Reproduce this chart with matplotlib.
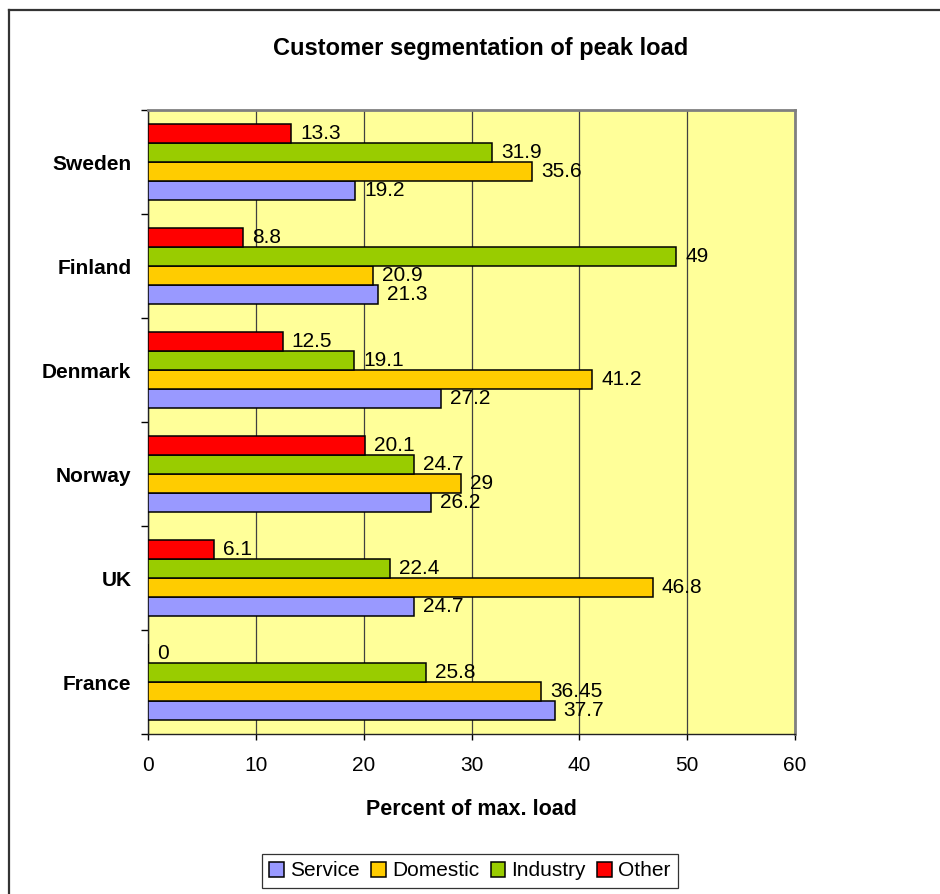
import numpy as np
import matplotlib.pyplot as plt
from matplotlib.lines import Line2D

plt.rcParams['font.family'] = ['Liberation Sans', 'DejaVu Sans']

countries = ["France", "UK", "Norway", "Denmark", "Finland", "Sweden"]
series = ["Service", "Domestic", "Industry", "Other"]
service = [37.7, 24.7, 26.2, 27.2, 21.3, 19.2]
domestic = [36.45, 46.8, 29, 41.2, 20.9, 35.6]
industry = [25.8, 22.4, 24.7, 19.1, 49, 31.9]
other = [0, 6.1, 20.1, 12.5, 8.8, 13.3]
colors = ["#9999FF", "#FFCC00", "#99CC00", "#FF0000"]
xticks = [0, 10, 20, 30, 40, 50, 60]

fig = plt.figure(figsize=(9.4, 8.94), dpi=100)
ax = fig.add_axes([148 / 940, 1 - 734 / 894, (795 - 148) / 940, (734 - 110) / 894])
ax.set_facecolor("#FFFF99")

y = np.arange(len(countries))
h = 0.1825
offsets = [-0.274, -0.091, 0.091, 0.274]
handles = []
for vals, name, c, off in zip([service, domestic, industry, other], series, colors, offsets):
    bars = ax.barh(y + off, vals, height=h, color=c, edgecolor="black",
                   linewidth=1.1, zorder=3, label=name)
    handles.append(bars)
    for yy, v in zip(y + off, vals):
        ax.annotate(f"{v:g}", (v, yy), xytext=(6.5, 0), textcoords="offset points",
                    ha="left", va="center", fontsize=15, zorder=4)

ax.set_xlim(0, 60)
ax.set_ylim(-0.5, len(countries) - 0.5)
ax.set_xticks(xticks)
ax.tick_params(axis="x", direction="out", length=4, width=1, labelsize=15, pad=12)
ax.set_yticks(y)
ax.set_yticklabels(countries, fontsize=15, fontweight="bold")
ax.tick_params(axis="y", which="major", length=0, pad=12)
ax.set_yticks(np.arange(-0.5, len(countries)), minor=True)
ax.tick_params(axis="y", which="minor", direction="out", length=5, width=1)
ax.grid(axis="x", color="#404040", linewidth=0.9, zorder=1)
ax.set_axisbelow(True)

for s in ["left", "bottom"]:
    ax.spines[s].set_color("#222222")
    ax.spines[s].set_linewidth(1.0)
for s in ["top", "right"]:
    ax.spines[s].set_color("#808080")
    ax.spines[s].set_linewidth(2.0)

ax.set_xlabel("Percent of max. load", fontsize=15.5, fontweight="bold", labelpad=17)
fig.text(481 / 940, 1 - 48 / 894, "Customer segmentation of peak load",
         fontsize=17, fontweight="bold", ha="center", va="center")

leg = fig.legend(handles=handles, labels=series, loc="center",
                 bbox_to_anchor=(470 / 940, 1 - 871 / 894), ncol=4, fontsize=15,
                 frameon=True, fancybox=False, handlelength=0.7, handleheight=0.7,
                 handletextpad=0.3, columnspacing=0.55, borderpad=0.35)
leg.get_frame().set_edgecolor("black")
leg.get_frame().set_linewidth(0.9)

# outer chart border (only left and top edges are inside the image)
fig.add_artist(Line2D([9 / 940, 9 / 940], [0, 1 - 10 / 894], transform=fig.transFigure,
                      color="#333333", linewidth=1.6))
fig.add_artist(Line2D([9 / 940, 1], [1 - 10 / 894, 1 - 10 / 894], transform=fig.transFigure,
                      color="#333333", linewidth=1.6))

fig.savefig("out.png", dpi=100)
